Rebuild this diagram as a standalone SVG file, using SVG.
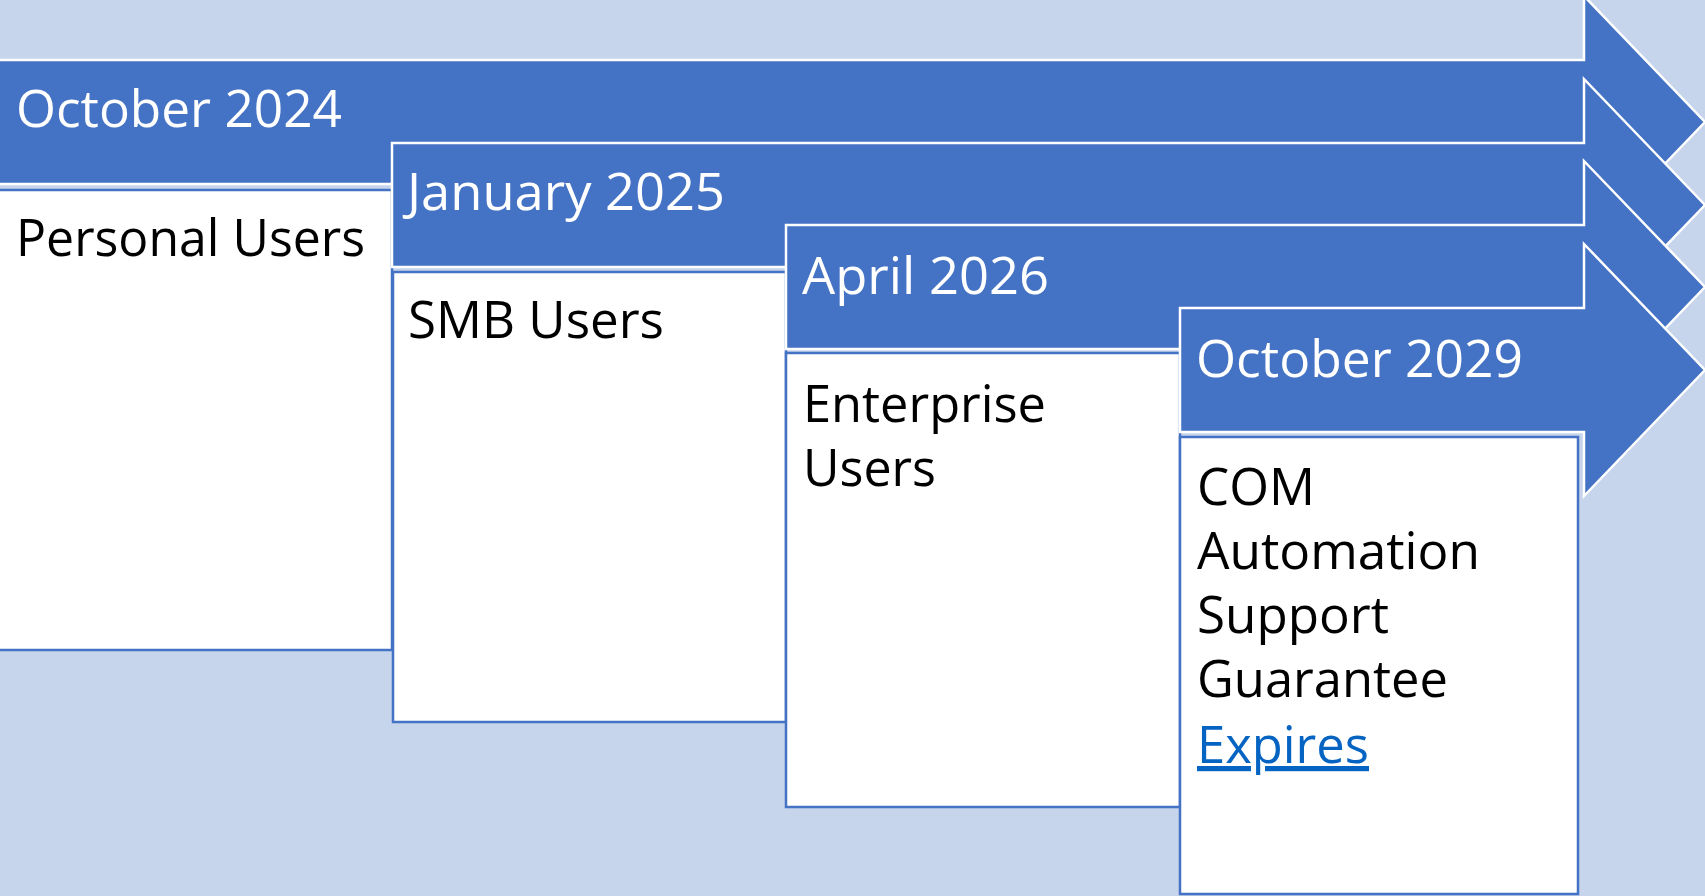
<svg xmlns="http://www.w3.org/2000/svg" width="1705" height="896" viewBox="0 0 1705 896">
<style>
.arrow{fill:#4472C4;stroke:#FFFFFF;stroke-width:2.5}
.box{fill:#FFFFFF;stroke:#4472C4;stroke-width:2.5}
.lbl{font-family:"Open Sans","Liberation Sans",sans-serif;font-size:52px;fill:#FFFFFF}
.txt{font-family:"Open Sans","Liberation Sans",sans-serif;font-size:52px;fill:#000000}
.link{font-family:"Open Sans","Liberation Sans",sans-serif;font-size:52px;fill:#0563C1;text-decoration:underline}
</style>
<rect x="0" y="0" width="1705" height="896" fill="#C7D5EC"/>
<g id="connectors"></g>
<g id="node1">
<path class="arrow" d="M-5,60 H1584 V-4 L1705,122 L1584,248 V184 H-5 Z"/>
<rect class="box" x="-5" y="190" width="397" height="460"/>
<text class="lbl" x="16" y="127" textLength="326" lengthAdjust="spacingAndGlyphs">October 2024</text>
<text class="txt" x="16" y="256" textLength="349" lengthAdjust="spacingAndGlyphs">Personal Users</text>
</g>
<g id="node2">
<path class="arrow" d="M392,143 H1584 V79 L1705,205 L1584,331 V267 H392 Z"/>
<rect class="box" x="393" y="272" width="393" height="450"/>
<text class="lbl" x="407" y="210" textLength="318" lengthAdjust="spacingAndGlyphs">January 2025</text>
<text class="txt" x="408" y="338" textLength="256" lengthAdjust="spacingAndGlyphs">SMB Users</text>
</g>
<g id="node3">
<path class="arrow" d="M786,225 H1584 V161 L1705,287 L1584,413 V349 H786 Z"/>
<rect class="box" x="786" y="353" width="394" height="454"/>
<text class="lbl" x="802" y="294" textLength="247" lengthAdjust="spacingAndGlyphs">April 2026</text>
<text class="txt" x="803" y="422" textLength="243" lengthAdjust="spacingAndGlyphs">Enterprise</text>
<text class="txt" x="803" y="486" textLength="133" lengthAdjust="spacingAndGlyphs">Users</text>
</g>
<g id="node4">
<path class="arrow" d="M1180,308 H1584 V244 L1705,370 L1584,496 V432 H1180 Z"/>
<rect class="box" x="1180" y="437" width="398" height="457"/>
<text class="lbl" x="1196" y="377" textLength="327" lengthAdjust="spacingAndGlyphs">October 2029</text>
<text class="txt" x="1197" y="505" textLength="118" lengthAdjust="spacingAndGlyphs">COM</text>
<text class="txt" x="1197" y="569" textLength="283" lengthAdjust="spacingAndGlyphs">Automation</text>
<text class="txt" x="1197" y="633" textLength="192" lengthAdjust="spacingAndGlyphs">Support</text>
<text class="txt" x="1197" y="697" textLength="251" lengthAdjust="spacingAndGlyphs">Guarantee</text>
<text class="link" x="1197" y="763" textLength="172" lengthAdjust="spacingAndGlyphs">Expires</text>
</g>
</svg>
